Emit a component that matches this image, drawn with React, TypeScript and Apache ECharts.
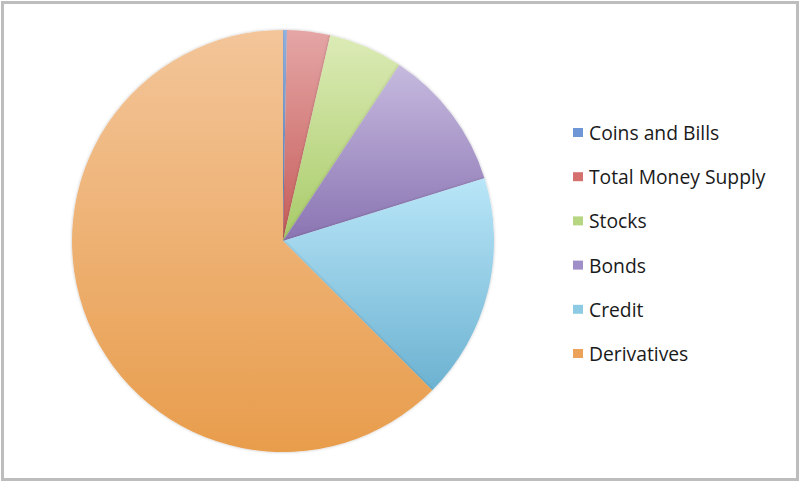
import React, { useEffect, useRef } from "react";
import * as echarts from "echarts";

const categories = ["Coins and Bills", "Total Money Supply", "Stocks", "Bonds", "Credit", "Derivatives"];
const values = [0.3, 3.3, 5.7, 10.9, 17.3, 62.5];
const topColors = ["#98b9e8", "#e4a6a5", "#dcebb6", "#c6badf", "#b9e6f8", "#f3c599"];
const bottomColors = ["#6a93d4", "#c65c59", "#a8cb68", "#8a74b2", "#6cb2d1", "#e89d4c"];
const legendColors = ["#6f97d8", "#d4706d", "#b6d682", "#a08ec8", "#8ccbe3", "#eda25a"];

export default function App() {
  const ref = useRef<HTMLDivElement>(null);
  useEffect(() => {
    document.body.style.margin = "0";
    const chart = echarts.init(ref.current!, undefined, { renderer: "svg" });
    const data = categories.map((name, i) => ({
      name,
      value: values[i],
      itemStyle: {
        color: new echarts.graphic.LinearGradient(0, 0, 0, 1, [
          { offset: 0, color: topColors[i] },
          { offset: 1, color: bottomColors[i] },
        ]),
      },
    }));
    chart.setOption({
      animation: false,
      backgroundColor: "#ffffff",
      graphic: [
        {
          type: "rect",
          shape: { x: 2.5, y: 2.5, width: 795, height: 477 },
          style: { fill: "none", stroke: "#bdbdbd", lineWidth: 3 },
          silent: true,
        },
      ],
      legend: {
        orient: "vertical",
        left: 573,
        top: 123,
        padding: 0,
        itemWidth: 10,
        itemHeight: 9,
        itemGap: 25.2,
        icon: "rect",
        data: categories.map((name, i) => ({ name, itemStyle: { color: legendColors[i] } })),
        textStyle: { fontFamily: "Open Sans", fontSize: 19.3, color: "#1a1a1a", padding: [0, 0, 0, 1] },
      },
      series: [
        {
          type: "pie",
          center: [283, 241],
          radius: 211,
          startAngle: 90,
          clockwise: true,
          label: { show: false },
          labelLine: { show: false },
          itemStyle: { shadowBlur: 3, shadowColor: "rgba(0,0,0,0.25)" },
          emphasis: { disabled: true },
          data,
        },
      ],
    });
    return () => chart.dispose();
  }, []);
  return <div ref={ref} style={{ width: 800, height: 482 }} />;
}
